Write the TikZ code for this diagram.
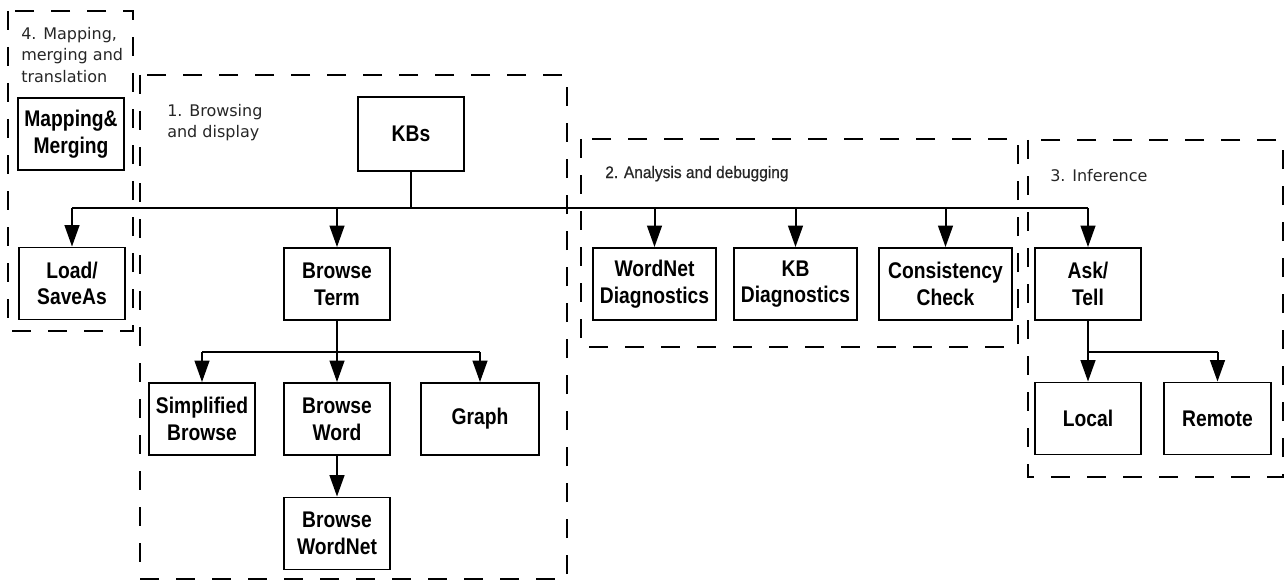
\documentclass[tikz,border=0pt]{standalone}
\usepackage{fontspec}
\setmainfont{Liberation Sans}
\newfontfamily\boxfont[FakeStretch=0.85]{Liberation Sans}
\newfontfamily\grpfont{DejaVu Sans}
\newfontfamily\narrowfont[FakeStretch=0.93,FakeBold=0.6]{Liberation Sans}
\usetikzlibrary{arrows.meta}
\begin{document}
\begin{tikzpicture}[x=0.75pt,y=-0.75pt,
  box/.style={draw, line width=1.4pt, inner sep=2pt, align=center,
    font=\boxfont\bfseries\fontsize{17}{20}\selectfont,
    minimum width=79.5pt, minimum height=54pt},
  grp/.style={draw, line width=1.1pt, dash pattern=on 14pt off 13pt},
  arr/.style={line width=1.5pt, -{Triangle[length=16pt,width=11pt]}},
  ln/.style={line width=1.5pt},
  lbl/.style={font=\grpfont\fontsize{12}{16}\selectfont, inner sep=0pt, align=left, text=black!85}
]
\useasboundingbox (0,0) rectangle (1286,585);

% group frames
\draw[grp] (8,11) rectangle (133,331);
\draw[grp] (140,75) rectangle (567,579);
\draw[grp] (581,139) rectangle (1018,347);
\draw[grp] (1028,140) rectangle (1283,477);

% group labels
\node[lbl, anchor=north west] (l4) at (21,27) {4. Mapping,\\merging and\\translation};
\node[lbl, anchor=north west] (l1) at (167,104) {1. Browsing\\and display};
\node[font=\narrowfont\fontsize{12.5}{15}\selectfont, inner sep=0pt, anchor=base west, text=black!85] (l2) at (605,178) {2. Analysis and debugging};
\node[lbl, anchor=base west] (l3) at (1050,181) {3. Inference};

% boxes
\node[box] (mm) at (71,134) {Mapping\&\\Merging};
\node[box] (load) at (72,283.5) {Load/\\SaveAs};
\node[box, minimum height=55.5pt] (kbs) at (411,134) {KBs};
\node[box] (bterm) at (337,284) {Browse\\Term};
\node[box] (simp) at (202,419) {Simplified\\Browse};
\node[box] (bword) at (337,419) {Browse\\Word};
\node[box, minimum width=88.5pt] (graph) at (480,419) {Graph};
\node[box] (bwn) at (337,533.5) {Browse\\WordNet};
\node[box, minimum width=92.25pt] (wnd) at (654.5,284) {WordNet\\Diagnostics};
\node[box, minimum width=92.25pt] (kbd) at (795.5,284) {KB\\Diagnostics};
\node[box, minimum width=99.75pt] (cc) at (945.5,284) {Consistency\\Check};
\node[box] (ask) at (1088,284) {Ask/\\Tell};
\node[box] (local) at (1088,418.5) {Local};
\node[box, minimum width=80.25pt] (remote) at (1217.5,418.5) {Remote};

% main bus
\coordinate (b1) at (411,208);
\draw[ln] (kbs.south) -- (b1);
\draw[ln] (load.north |- b1) -- (ask.north |- b1);
\foreach \n in {load,bterm,wnd,kbd,cc,ask}
  \draw[arr] (\n.north |- b1) -- (\n.north);

% browse bus
\coordinate (b2) at (337,352);
\draw[ln] (bterm.south) -- (b2);
\draw[ln] (simp.north |- b2) -- (graph.north |- b2);
\foreach \n in {simp,bword,graph}
  \draw[arr] (\n.north |- b2) -- (\n.north);
\draw[arr] (bword.south) -- (bwn.north);

% inference bus
\coordinate (b3) at (1088,352);
\draw[ln] (ask.south) -- (b3);
\draw[ln] (local.north |- b3) -- (remote.north |- b3);
\foreach \n in {local,remote}
  \draw[arr] (\n.north |- b3) -- (\n.north);
\end{tikzpicture}
\end{document}
